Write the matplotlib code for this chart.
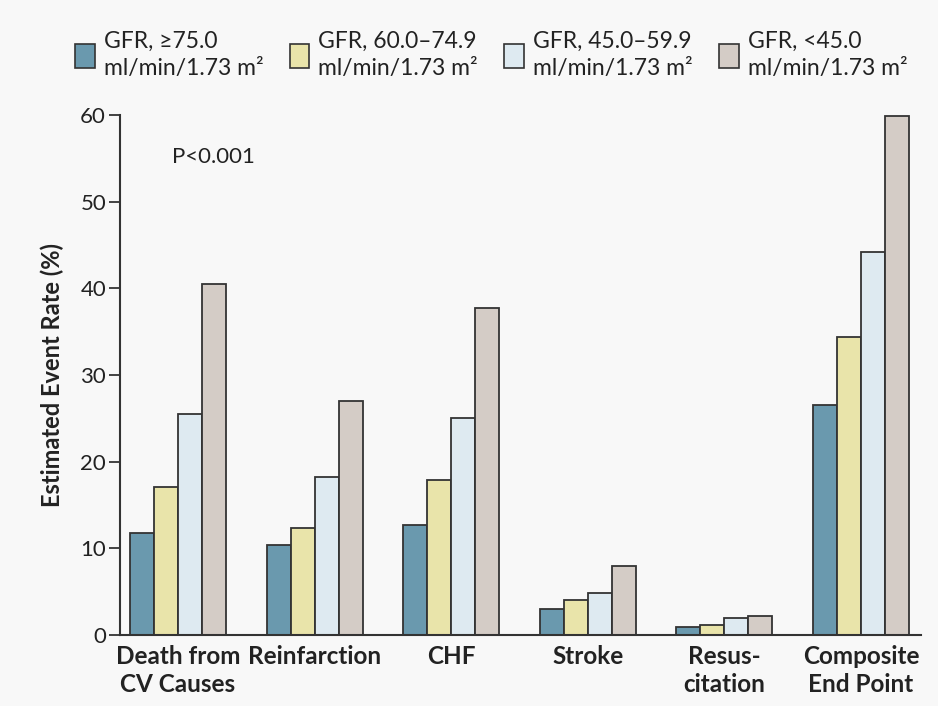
import matplotlib.pyplot as plt
import numpy as np
from matplotlib.patches import Patch

categories = ["Death from\nCV Causes", "Reinfarction", "CHF", "Stroke", "Resus-\ncitation", "Composite\nEnd Point"]
series_labels = ["GFR, ≥75.0\nml/min/1.73 m²", "GFR, 60.0–74.9\nml/min/1.73 m²",
                 "GFR, 45.0–59.9\nml/min/1.73 m²", "GFR, <45.0\nml/min/1.73 m²"]
gfr_ge75 = [11.8, 10.4, 12.7, 3.0, 0.9, 26.5]
gfr_60_75 = [17.1, 12.3, 17.9, 4.0, 1.2, 34.4]
gfr_45_60 = [25.5, 18.2, 25.0, 4.8, 2.0, 44.2]
gfr_lt45 = [40.5, 27.0, 37.7, 8.0, 2.2, 59.9]
yticks = [0, 10, 20, 30, 40, 50, 60]

colors = ["#6a99ae", "#e9e4aa", "#deeaf1", "#d4ccc6"]
bg = "#f8f8f8"

plt.rcParams['font.family'] = ['Lato', 'DejaVu Sans']
fig = plt.figure(figsize=(9.38, 7.06), dpi=100, facecolor=bg)
ax = fig.add_axes([120/938, 1-635/706, (921-120)/938, (635-115)/706], facecolor=bg)

series = [gfr_ge75, gfr_60_75, gfr_45_60, gfr_lt45]
x = np.arange(len(categories))
w = 0.176
for i, vals in enumerate(series):
    ax.bar(x + (i - 1.5) * w, vals, width=w, color=colors[i], edgecolor="#333333", linewidth=1.3)

ax.set_xlim(-0.425, len(categories) - 1 + 0.44)
ax.set_ylim(0, 60)
ax.set_yticks(yticks)
ax.set_yticklabels([str(t) for t in yticks], fontsize=16, color="#222222")
ax.tick_params(axis='y', direction='out', length=8, width=1.3, color="#333333", pad=2)
ax.set_xticks(x)
ax.set_xticklabels(categories, fontsize=17.5, fontweight='bold', color="#222222", linespacing=1.3)
ax.tick_params(axis='x', length=0, pad=7)
for s in ['top', 'right']:
    ax.spines[s].set_visible(False)
for s in ['left', 'bottom']:
    ax.spines[s].set_linewidth(1.5)
    ax.spines[s].set_color("#333333")

ax.set_ylabel("Estimated Event Rate (%)", fontsize=17, fontweight='bold', color="#222222", labelpad=12)
ax.text(172/938, 1-157/706, "P<0.001", transform=fig.transFigure, fontsize=16, color="#222222",
        ha='left', va='center')

handles = [Patch(facecolor=c, edgecolor="#333333", linewidth=1.2) for c in colors]
fig.legend(handles, series_labels, loc='upper left', bbox_to_anchor=(66/938, 1-22/706), ncol=4,
           frameon=False, fontsize=16.5, handlelength=0.85, handleheight=1.2, handletextpad=0.4,
           columnspacing=1.15, borderaxespad=0, labelcolor="#222222")
for t in fig.legends[0].get_texts():
    t.set_linespacing(1.35)

fig.savefig("out.png", dpi=100, facecolor=bg)
